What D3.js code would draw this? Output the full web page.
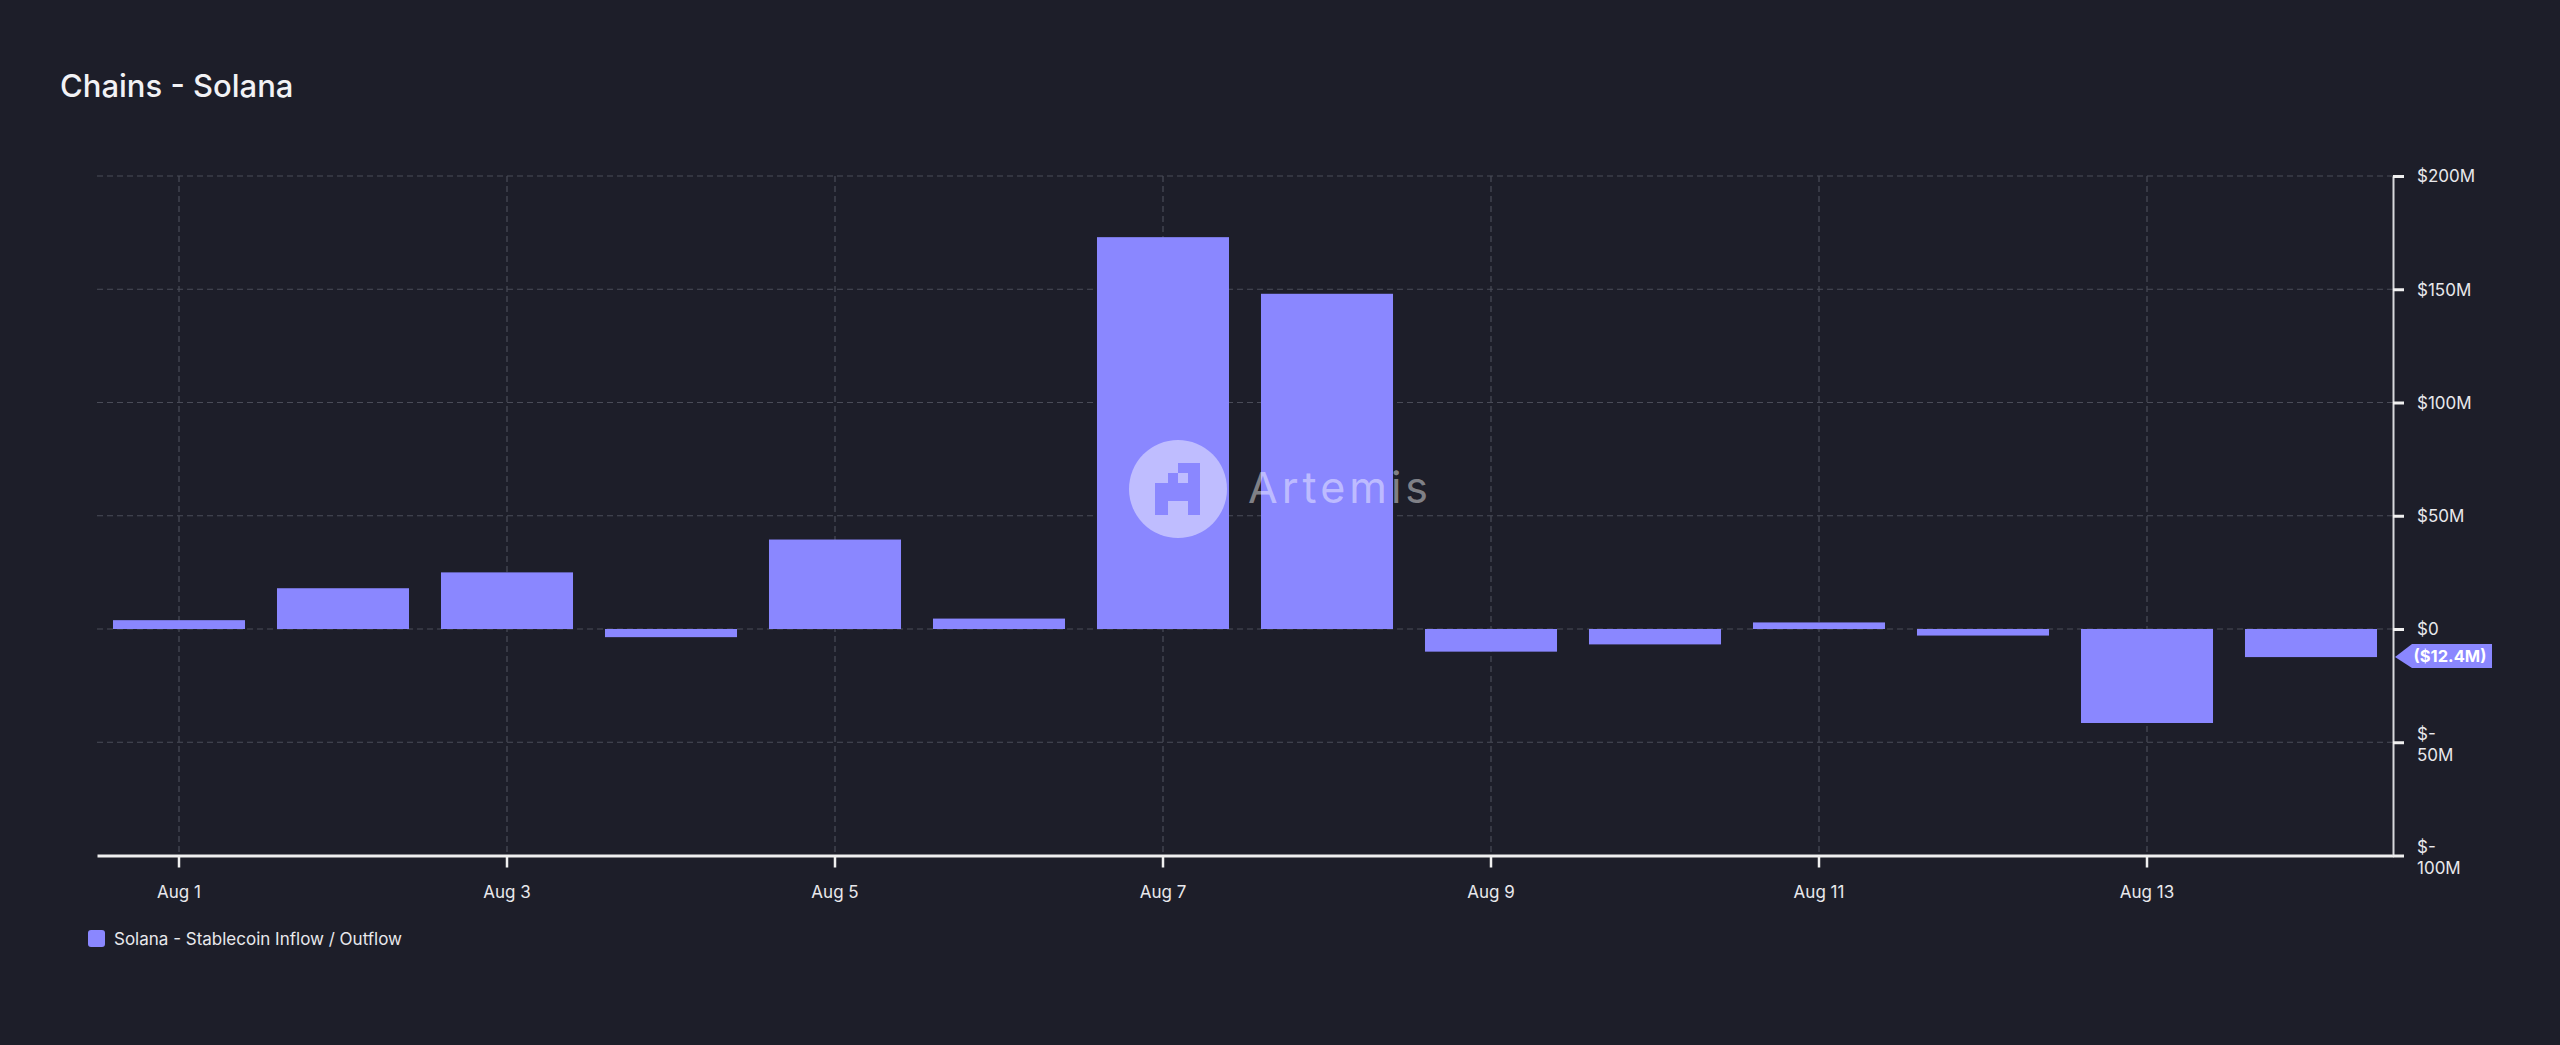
<!DOCTYPE html>
<html>
<head>
<meta charset="utf-8">
<script src="https://cdn.jsdelivr.net/npm/d3@7"></script>
<style>
  html, body { margin: 0; padding: 0; background: #1d1e29; }
  svg { display: block; }
  text { font-family: Inter, "Noto Sans", sans-serif; }
</style>
</head>
<body>
<svg id="chart" width="2560" height="1045"></svg>
<script>
const title = "Chains - Solana";
const seriesName = "Solana - Stablecoin Inflow / Outflow";
const days = ["Aug 1","Aug 2","Aug 3","Aug 4","Aug 5","Aug 6","Aug 7","Aug 8","Aug 9","Aug 10","Aug 11","Aug 12","Aug 13","Aug 14"];
const flowM = [3.9, 18, 25, -3.6, 39.5, 4.6, 173, 148, -10, -6.8, 2.9, -2.9, -41.5, -12.4];
const xTickLabels = ["Aug 1","Aug 3","Aug 5","Aug 7","Aug 9","Aug 11","Aug 13"];
const yTicks = [-100, -50, 0, 50, 100, 150, 200];
const yTickLabels = [["$-","100M"],["$-","50M"],["$0"],["$50M"],["$100M"],["$150M"],["$200M"]];
const lastLabel = "($12.4M)";

const BG = "#1d1e29";
const BAR = "#8a87ff";
const GRID = "#4a4c58";

const svg = d3.select("#chart");
svg.append("rect").attr("width", 2560).attr("height", 1045).attr("fill", BG);

const pLeft = 97, pRight = 2393, pTop = 176, pBottom = 855.5;

const x = d3.scaleBand().domain(days).range([pLeft, pRight]).paddingInner(0.195).paddingOuter(0.0975);
const y = d3.scaleLinear().domain([-100, 200]).range([pBottom, pTop]);

// title
svg.append("text").attr("x", 60).attr("y", 97).attr("fill", "#f2f2f5")
  .attr("font-size", 31).attr("font-weight", 500).text(title);

// gridlines
const grid = svg.append("g");
grid.selectAll("line.h").data(yTicks.filter(d => d !== -100)).join("line")
  .attr("x1", pLeft).attr("x2", pRight)
  .attr("y1", d => y(d)).attr("y2", d => y(d))
  .attr("stroke", GRID).attr("stroke-width", 1.2).attr("stroke-dasharray", "6,4");
grid.selectAll("line.v").data(xTickLabels).join("line")
  .attr("x1", d => x(d) + x.bandwidth() / 2).attr("x2", d => x(d) + x.bandwidth() / 2)
  .attr("y1", pTop).attr("y2", pBottom)
  .attr("stroke", GRID).attr("stroke-width", 1.2).attr("stroke-dasharray", "6,4");

// bars
svg.append("g").selectAll("rect").data(days).join("rect")
  .attr("x", d => x(d))
  .attr("width", x.bandwidth())
  .attr("y", (d, i) => y(Math.max(0, flowM[i])))
  .attr("height", (d, i) => Math.abs(y(flowM[i]) - y(0)))
  .attr("fill", BAR);

// watermark
const wm = svg.append("g").attr("transform", "translate(1178,489)");
wm.append("circle").attr("r", 49).attr("fill", "rgba(255,255,255,0.45)");
const logoCells = [
  [0, -26, 22, 10], [-10, -16, 10, 10], [10, -16, 12, 42],
  [-23, -6, 45, 18], [-23, 12, 13, 14]
];
wm.selectAll("rect").data(logoCells).join("rect")
  .attr("x", d => d[0]).attr("y", d => d[1]).attr("width", d => d[2]).attr("height", d => d[3])
  .attr("fill", BAR);
wm.append("text").attr("x", 70).attr("y", 14).attr("font-size", 43).attr("font-weight", 400)
  .attr("fill", "rgba(255,255,255,0.45)").attr("letter-spacing", 4).text("Artemis");

// x axis
const xAxis = d3.axisBottom(x).tickValues(xTickLabels).tickSize(12).tickSizeOuter(0).tickPadding(18);
const gx = svg.append("g").attr("transform", `translate(0,${pBottom})`).call(xAxis);
gx.select(".domain").attr("stroke", "#f0f0f0").attr("stroke-width", 3);
gx.selectAll(".tick line").attr("stroke", "#f0f0f0").attr("stroke-width", 2.5);
gx.selectAll(".tick text").attr("fill", "#e8e8ec").attr("font-size", 17)
  .attr("font-family", "Inter, 'Noto Sans', sans-serif");

// y axis (right)
const yAxis = d3.axisRight(y).tickValues(yTicks).tickSize(11).tickSizeOuter(0).tickPadding(13).tickFormat(() => "");
const gy = svg.append("g").attr("transform", `translate(${pRight},0)`).call(yAxis);
gy.select(".domain").attr("stroke", "#d8d8dc").attr("stroke-width", 2);
gy.selectAll(".tick line").attr("stroke", "#f0f0f0").attr("stroke-width", 3);
gy.selectAll(".tick text").each(function(d) {
  const lines = yTickLabels[yTicks.indexOf(d)];
  const t = d3.select(this).attr("fill", "#e8e8ec").attr("font-size", 17)
    .attr("font-family", "Inter, 'Noto Sans', sans-serif").attr("dy", null);
  const lh = 21;
  const start = lines.length > 1 ? -9 : 0;
  lines.forEach((s, k) => {
    t.append("tspan").attr("x", 24).attr("y", start + k * lh).attr("dy", "0.35em").text(s);
  });
});

// last value tag
const ly = y(flowM[flowM.length - 1]);
const tag = svg.append("g");
tag.append("path")
  .attr("d", `M${pRight + 2},${ly} L${pRight + 19},${ly - 13} L${pRight + 99},${ly - 13} L${pRight + 99},${ly + 11} L${pRight + 19},${ly + 11} Z`)
  .attr("fill", BAR);
tag.append("text").attr("x", pRight + 57).attr("y", ly - 1).attr("dy", "0.36em")
  .attr("text-anchor", "middle").attr("fill", "#ffffff").attr("font-size", 16.5).attr("font-weight", 700)
  .attr("font-family", "'Liberation Sans', Arial, sans-serif")
  .text(lastLabel);

// legend
svg.append("rect").attr("x", 88).attr("y", 930).attr("width", 17).attr("height", 17).attr("rx", 3).attr("fill", BAR);
svg.append("text").attr("x", 114).attr("y", 939).attr("dy", "0.35em").attr("fill", "#e8e8ec")
  .attr("font-size", 17).text(seriesName);
</script>
</body>
</html>
